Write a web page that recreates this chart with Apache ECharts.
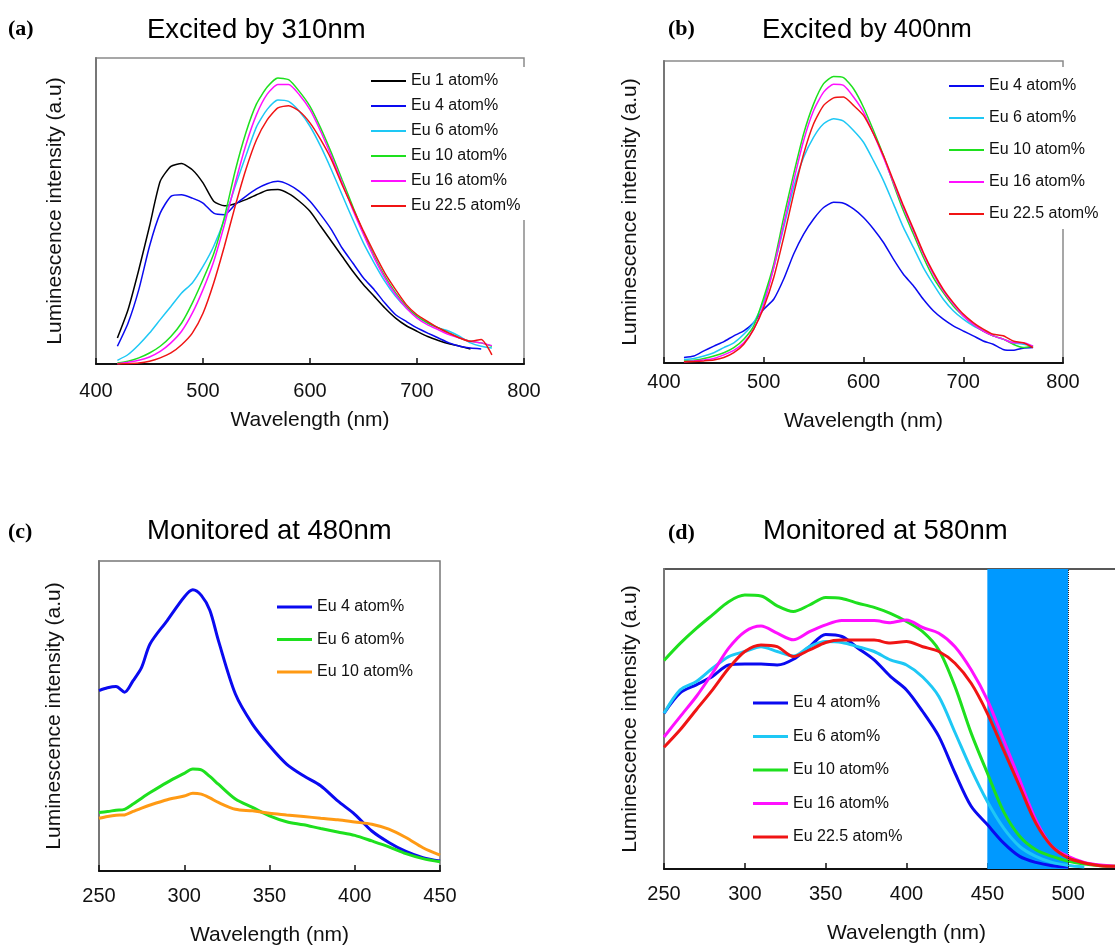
<!DOCTYPE html>
<html><head><meta charset="utf-8">
<script src="https://cdn.jsdelivr.net/npm/echarts@6/dist/echarts.min.js"></script>
<style>html,body{margin:0;padding:0;background:#fff}#c{width:1115px;height:945px}</style>
</head><body><div id="c"></div>
<script>
// ---------- DATA ----------
// Panel (a): emission, excited by 310 nm
const wlA = [420,430,440,450,460,470,480,490,500,510,520,530,540,550,560,570,580,590,600,610,620,630,640,650,660,670,680,690,700,710,720,730,740,750,760,770];
const a_eu1  = [.085,.178,.308,.45,.597,.646,.655,.635,.592,.532,.517,.524,.537,.553,.568,.570,.557,.532,.499,.45,.401,.352,.303,.259,.221,.183,.150,.125,.107,.090,.077,.066,.058,.049,null,null];
const a_eu4  = [.058,.134,.243,.385,.493,.548,.553,.542,.526,.493,.488,.521,.548,.572,.589,.597,.586,.564,.532,.488,.439,.379,.330,.281,.243,.199,.161,.139,.118,.101,.085,.069,.058,.052,.049,null];
const a_eu6  = [.012,.031,.063,.101,.145,.188,.232,.265,.319,.385,.472,.58,.68,.775,.832,.863,.858,.826,.777,.711,.635,.553,.472,.395,.330,.27,.221,.183,.156,.134,.118,.107,.09,.069,.058,.052];
const a_eu10 = [.003,.009,.02,.036,.058,.09,.134,.199,.276,.36,.48,.63,.755,.85,.905,.935,.929,.891,.842,.771,.690,.602,.515,.428,.352,.286,.232,.188,.156,.134,.118,.101,.085,.074,.069,.058];
const a_eu16 = [.001,.006,.012,.023,.041,.069,.107,.166,.243,.335,.455,.59,.715,.815,.882,.913,.913,.88,.831,.76,.679,.592,.504,.423,.347,.281,.227,.183,.150,.128,.112,.096,.085,.074,.069,.06];
const a_eu22 = [0,.001,.003,.009,.02,.036,.063,.101,.166,.265,.385,.515,.635,.733,.798,.837,.844,.826,.788,.733,.668,.586,.510,.434,.363,.297,.243,.194,.161,.139,.118,.101,.085,.074,.08,.03];

// Panel (b): emission, excited by 400 nm
const wlB = wlA;
const b_eu4  = [.018,.023,.04,.056,.071,.09,.106,.134,.178,.211,.278,.361,.427,.477,.515,.532,.529,.51,.482,.444,.399,.344,.294,.256,.211,.173,.145,.123,.106,.09,.073,.062,.045,.042,.049,.051];
const b_eu6  = [.012,.015,.023,.034,.051,.067,.095,.134,.206,.316,.449,.582,.681,.748,.792,.809,.801,.77,.731,.67,.604,.527,.449,.383,.316,.261,.211,.173,.145,.123,.106,.09,.079,.067,.062,.056];
const b_eu10 = [.007,.009,.015,.023,.034,.051,.079,.123,.217,.327,.482,.626,.759,.858,.925,.949,.945,.908,.847,.77,.687,.593,.504,.427,.35,.283,.233,.189,.156,.128,.106,.09,.079,.062,.051,.056];
const b_eu16 = [.004,.007,.01,.015,.027,.042,.067,.112,.195,.316,.46,.604,.737,.836,.897,.923,.919,.881,.831,.759,.681,.598,.515,.438,.361,.294,.239,.195,.156,.128,.106,.09,.079,.067,.067,.056];
const b_eu22 = [.004,.005,.007,.01,.018,.034,.062,.112,.184,.283,.416,.56,.692,.792,.853,.878,.881,.853,.82,.759,.687,.604,.521,.444,.366,.3,.244,.2,.162,.134,.112,.095,.09,.073,.067,.051];

// Panel (c): excitation, monitored at 480 nm
const wlC = [250,255,260,265,270,275,280,290,300,305,310,315,320,330,340,350,360,370,380,390,400,410,420,430,440,450];
const c_eu4  = [.582,.591,.595,.577,.614,.657,.733,.808,.884,.907,.889,.841,.744,.571,.474,.404,.345,.307,.275,.226,.183,.129,.092,.063,.043,.032];
const c_eu6  = [.189,.192,.196,.199,.216,.235,.253,.286,.315,.329,.326,.305,.28,.232,.205,.178,.159,.149,.137,.126,.115,.097,.078,.056,.04,.03];
const c_eu10 = [.17,.176,.18,.181,.192,.203,.213,.23,.242,.251,.248,.236,.221,.199,.194,.186,.181,.176,.17,.165,.158,.151,.135,.108,.075,.051];

// Panel (d): excitation, monitored at 580 nm
const wlD = [250,260,270,280,290,300,310,320,330,340,350,360,370,380,390,400,410,420,430,440,450,460,470,480,490,500,510,520,530];
const d_eu4  = [.519,.587,.614,.642,.68,.683,.683,.68,.699,.741,.782,.775,.736,.697,.642,.597,.525,.442,.32,.209,.148,.087,.042,.022,.011,.007,null,null,null];
const d_eu6  = [.519,.597,.625,.669,.708,.725,.741,.725,.71,.741,.758,.755,.741,.725,.697,.68,.64,.575,.455,.333,.225,.137,.075,.042,.022,.012,.007,null,null];
const d_eu10 = [.695,.752,.802,.847,.891,.913,.91,.877,.858,.88,.905,.902,.886,.872,.852,.825,.791,.73,.608,.453,.32,.192,.109,.064,.042,.026,.017,.011,.009];
const d_eu16 = [.44,.508,.575,.653,.736,.791,.81,.786,.764,.791,.814,.828,.828,.828,.821,.83,.805,.786,.741,.664,.564,.431,.297,.164,.075,.042,.022,.013,.009];
const d_eu22 = [.406,.464,.531,.597,.669,.725,.747,.741,.708,.73,.755,.763,.763,.763,.753,.758,.741,.725,.686,.619,.519,.397,.275,.153,.075,.037,.02,.011,.009];
const bandD = [450, 500];

const ticksAB = [400, 800, 100];
const ticksC = [250, 450, 50];
const ticksD = [250, 550, 50];

const N1='Eu 1 atom%', N4='Eu 4 atom%', N6='Eu 6 atom%', N10='Eu 10 atom%', N16='Eu 16 atom%', N22='Eu 22.5 atom%';

// ---------- STYLE ----------
const FONT = '"Liberation Sans", Arial, sans-serif';
const SERIF = '"Liberation Serif", "Times New Roman", serif';
const C = {black:'#000000', blue:'#0a0af0', cyan:'#1ec8f5', green:'#1ee01e', magenta:'#ff10ff', red:'#f01414', orange:'#ff9a14'};

function pairs(xs, ys){ return xs.map((x,i)=>[x, ys[i]]); }
function line(name, xs, ys, color, idx, width, smooth){
  return {type:'line', name, xAxisIndex:idx, yAxisIndex:idx, data:pairs(xs, ys), showSymbol:false, symbol:'none',
    smooth: smooth, connectNulls:false, z:3, lineStyle:{color, width}, itemStyle:{color}, emphasis:{disabled:true}};
}
function legendItems(names, colors){ return names.map((n,i)=>({name:n, itemStyle:{color:colors[i]}})); }
function xAx(idx, t, margin, gap){
  return {type:'value', gridIndex:idx, min:t[0], max:t[1], interval:t[2],
    name:'Wavelength (nm)', nameLocation:'middle', nameGap:gap,
    nameTextStyle:{fontSize:21, color:'#111', fontFamily:FONT},
    axisLine:{show:true, onZero:false, lineStyle:{color:'#111', width:2}},
    axisTick:{show:true, inside:true, length:6, lineStyle:{color:'#111', width:1.5}},
    axisLabel:{fontSize:20, color:'#111', fontFamily:FONT, margin:margin},
    splitLine:{show:false}};
}
function yAx(idx, gap){
  return {type:'value', gridIndex:idx, min:0, max:1,
    name:'Luminescence intensity (a.u)', nameLocation:'middle', nameGap:gap,
    nameTextStyle:{fontSize:21, color:'#111', fontFamily:FONT},
    axisLine:{show:true, onZero:false, lineStyle:{color:'#777', width:2}},
    axisTick:{show:false}, axisLabel:{show:false}, splitLine:{show:false}};
}
function legend(left, top, padding, gap, names, colors, bg, thick){
  return {orient:'vertical', left, top, padding, itemGap:gap, itemWidth:35, itemHeight:thick,
    icon:'rect', backgroundColor:bg, selectedMode:false,
    textStyle:{fontSize:16, color:'#111', fontFamily:FONT},
    data:legendItems(names, colors)};
}
function ttl(text, left, top, size, family, weight, rich){
  const t = {text, left, top, padding:0, textStyle:{fontSize:size, fontFamily:family, fontWeight:weight, color:'#000'}};
  if (rich) t.textStyle.rich = rich;
  return t;
}
function grid(left, top, width, height, border){
  return {left, top, width, height, show:true, borderColor:border, borderWidth:1.5,
    backgroundColor:'transparent', containLabel:false, outerBoundsMode:'none'};
}

const chart = echarts.init(document.getElementById('c'), null, {renderer:'canvas'});
const option = {
  animation:false,
  backgroundColor:'#fff',
  title:[
    ttl('(a)', 8, 18, 22, SERIF, 'bold'),
    ttl('Excited by 310nm', 147, 16, 27.5, FONT, 'normal'),
    ttl('(b)', 668, 18, 22, SERIF, 'bold'),
    ttl('Excited {s|by 400nm}', 762, 16, 27.5, FONT, 'normal', {s:{fontSize:25.5, fontFamily:FONT, color:'#000'}}),
    ttl('(c)', 8, 521, 22, SERIF, 'bold'),
    ttl('Monitored at 480nm', 147, 517, 27.5, FONT, 'normal'),
    ttl('(d)', 668, 522, 22, SERIF, 'bold'),
    ttl('Monitored at 580nm', 763, 517, 27.5, FONT, 'normal')
  ],
  legend:[
    legend(366, 67, [6,14,6,5], 9, [N1,N4,N6,N10,N16,N22], [C.black,C.blue,C.cyan,C.green,C.magenta,C.red], '#fff', 2),
    legend(944, 67, [11,10,7,5], 16, [N4,N6,N10,N16,N22], [C.blue,C.cyan,C.green,C.magenta,C.red], '#fff', 2),
    legend(272, 590, [9,10,5,5], 16.5, [N4,N6,N10], [C.blue,C.green,C.orange], '#fff', 3),
    legend(748, 690, [5,5,5,5], 17.5, [N4,N6,N10,N16,N22], [C.blue,C.cyan,C.green,C.magenta,C.red], 'transparent', 3)
  ],
  grid:[
    grid(96, 58, 428, 306, '#8a8a8a'),
    grid(664, 61, 399, 302, '#8a8a8a'),
    grid(99, 561, 341, 310, '#777'),
    grid(664, 569, 485, 300, '#222')
  ],
  xAxis:[xAx(0, ticksAB, 17, 46), xAx(1, ticksAB, 9, 48), xAx(2, ticksC, 15, 54), xAx(3, ticksD, 15, 54)],
  yAxis:[yAx(0, 30), yAx(1, 23), yAx(2, 34), yAx(3, 23)],
  series:[
    line(N1, wlA, a_eu1, C.black, 0, 1.5, 0.2),
    line(N4, wlA, a_eu4, C.blue, 0, 1.5, 0.2),
    line(N6, wlA, a_eu6, C.cyan, 0, 1.5, 0.2),
    line(N10, wlA, a_eu10, C.green, 0, 1.5, 0.2),
    line(N16, wlA, a_eu16, C.magenta, 0, 1.5, 0.2),
    line(N22, wlA, a_eu22, C.red, 0, 1.5, 0.2),

    line(N4, wlB, b_eu4, C.blue, 1, 1.5, 0.2),
    line(N6, wlB, b_eu6, C.cyan, 1, 1.5, 0.2),
    line(N10, wlB, b_eu10, C.green, 1, 1.5, 0.2),
    line(N16, wlB, b_eu16, C.magenta, 1, 1.5, 0.2),
    line(N22, wlB, b_eu22, C.red, 1, 1.5, 0.2),

    line(N4, wlC, c_eu4, C.blue, 2, 3, 0.3),
    line(N6, wlC, c_eu6, C.green, 2, 3, 0.3),
    line(N10, wlC, c_eu10, C.orange, 2, 3, 0.3),

    {type:'line', name:'band', xAxisIndex:3, yAxisIndex:3, data:[], z:1, silent:true,
      markArea:{silent:true, itemStyle:{color:'#0099ff', opacity:1}, label:{show:false},
        data:[[{xAxis:bandD[0]},{xAxis:bandD[1]}]]},
      markLine:{silent:true, symbol:'none', label:{show:false}, animation:false,
        lineStyle:{type:'dotted', color:'#222', width:1}, data:[{xAxis:bandD[1]}]}},
    line(N4, wlD, d_eu4, C.blue, 3, 3, 0.3),
    line(N6, wlD, d_eu6, C.cyan, 3, 3, 0.3),
    line(N10, wlD, d_eu10, C.green, 3, 3, 0.3),
    line(N16, wlD, d_eu16, C.magenta, 3, 3, 0.3),
    line(N22, wlD, d_eu22, C.red, 3, 3, 0.3)
  ]
};
chart.setOption(option);
</script></body></html>
